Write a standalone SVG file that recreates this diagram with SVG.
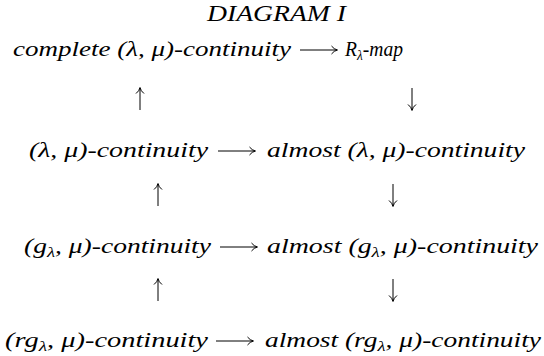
<svg xmlns="http://www.w3.org/2000/svg" width="544" height="356" viewBox="0 0 544 356">
<style>
text{font-family:"Liberation Serif","DejaVu Serif",serif;font-style:italic;font-size:22px;fill:#000}
.t{font-size:24px}
.sub{font-size:15px}
.c line{stroke:#000;stroke-width:1}
</style>
<defs>
<marker id="ah" markerWidth="10" markerHeight="10" refX="8" refY="5" orient="auto" markerUnits="userSpaceOnUse">
<path d="M2.5,1 Q5,4.3 8.5,5 Q5,5.7 2.5,9" fill="none" stroke="#000" stroke-width="1"/>
</marker>
</defs>
<rect width="544" height="356" fill="#fff"/>
<g id="title"><text class="t" x="207" y="21" textLength="139" lengthAdjust="spacingAndGlyphs">DIAGRAM I</text></g>
<g id="n1"><text x="13" y="56" textLength="278" lengthAdjust="spacingAndGlyphs">complete (λ, μ)-continuity</text></g>
<g id="n2"><text x="345" y="56" textLength="58" lengthAdjust="spacingAndGlyphs">R<tspan class="sub" dy="4">λ</tspan><tspan dy="-4">-map</tspan></text></g>
<g id="n3"><text x="29" y="157" textLength="179" lengthAdjust="spacingAndGlyphs">(λ, μ)-continuity</text></g>
<g id="n4"><text x="267" y="157" textLength="258" lengthAdjust="spacingAndGlyphs">almost (λ, μ)-continuity</text></g>
<g id="n5"><text x="24" y="253" textLength="187" lengthAdjust="spacingAndGlyphs">(g<tspan class="sub" dy="4">λ</tspan><tspan dy="-4">, μ)-continuity</tspan></text></g>
<g id="n6"><text x="267" y="253" textLength="271" lengthAdjust="spacingAndGlyphs">almost (g<tspan class="sub" dy="4">λ</tspan><tspan dy="-4">, μ)-continuity</tspan></text></g>
<g id="n7"><text x="5" y="347" textLength="203" lengthAdjust="spacingAndGlyphs">(rg<tspan class="sub" dy="4">λ</tspan><tspan dy="-4">, μ)-continuity</tspan></text></g>
<g id="n8"><text x="265" y="347" textLength="276" lengthAdjust="spacingAndGlyphs">almost (rg<tspan class="sub" dy="4">λ</tspan><tspan dy="-4">, μ)-continuity</tspan></text></g>
<g id="connectors" class="c">
<line x1="300" y1="50" x2="337" y2="50" marker-end="url(#ah)"/>
<line x1="218" y1="151" x2="255" y2="151" marker-end="url(#ah)"/>
<line x1="220" y1="247" x2="257" y2="247" marker-end="url(#ah)"/>
<line x1="216" y1="341" x2="253" y2="341" marker-end="url(#ah)"/>
<line x1="140" y1="110" x2="140" y2="88" marker-end="url(#ah)"/>
<line x1="412" y1="88" x2="412" y2="110" marker-end="url(#ah)"/>
<line x1="158" y1="206" x2="158" y2="184" marker-end="url(#ah)"/>
<line x1="393" y1="184" x2="393" y2="206" marker-end="url(#ah)"/>
<line x1="158" y1="301" x2="158" y2="279" marker-end="url(#ah)"/>
<line x1="393" y1="279" x2="393" y2="301" marker-end="url(#ah)"/>
</g>
</svg>
